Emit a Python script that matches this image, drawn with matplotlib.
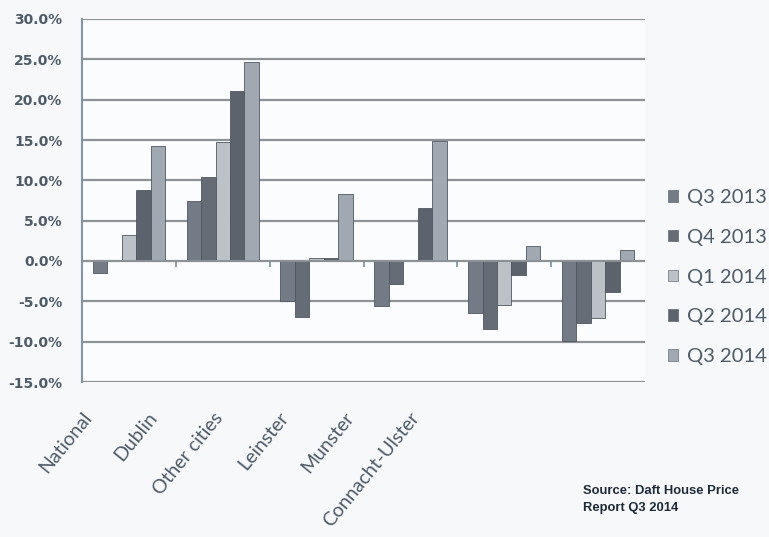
import numpy as np
import matplotlib
matplotlib.use("Agg")
import matplotlib.pyplot as plt
from matplotlib.patches import Patch
from matplotlib.ticker import FuncFormatter

# house price change by region, year on year
regioes = ["National", "Dublin", "Other cities", "Leinster", "Munster", "Connacht-Ulster"]
trimestres = ["Q3 2013", "Q4 2013", "Q1 2014", "Q2 2014", "Q3 2014"]
q3_2013 = [-1.5, 7.5, -5.0, -5.6, -6.4, -9.9]
q4_2013 = [0.0, 10.4, -6.9, -2.8, -8.4, -7.7]
q1_2014 = [3.2, 14.8, 0.4, 0.0, -5.4, -7.1]
q2_2014 = [8.8, 21.1, 0.4, 6.6, -1.7, -3.9]
q3_2014 = [14.3, 24.7, 8.3, 14.9, 1.8, 1.4]
y_ticks = [-15, -10, -5, 0, 5, 10, 15, 20, 25, 30]

series = [q3_2013, q4_2013, q1_2014, q2_2014, q3_2014]
cores = ["#727b86", "#656c75", "#bcc1c7", "#5c636c", "#a0a9b2"]
cor_texto = "#4e5b68"
fundo = "#f6f8fa"

fig = plt.figure(figsize=(7.69, 5.37), dpi=100)
fig.patch.set_facecolor(fundo)
ax = fig.add_axes([82 / 769, 1 - 382 / 537, 563 / 769, 363 / 537])
ax.set_facecolor("#fbfcfd")

n = len(series)
largura = 1 / (n + 1.5)
x = np.arange(len(regioes))
for i, (vals, cor) in enumerate(zip(series, cores)):
    ax.bar(x + (i - (n - 1) / 2) * largura, vals, largura, color=cor,
           edgecolor="#50575f", linewidth=0.6, zorder=3, label=trimestres[i])

ax.set_xlim(-0.5, len(regioes) - 0.5)
ax.set_ylim(y_ticks[0], y_ticks[-1])
ax.set_yticks(y_ticks)
ax.yaxis.set_major_formatter(FuncFormatter(lambda v, p: f"{v:.1f}%"))
ax.tick_params(axis="y", length=0, pad=14, labelsize=10, labelcolor=cor_texto)
for t in ax.get_yticklabels():
    t.set_fontweight("bold")
ax.grid(axis="y", color="#8d9297", linewidth=1.6, zorder=0)
ax.set_xticks([])

for s in ["top", "right", "bottom"]:
    ax.spines[s].set_visible(False)
ax.spines["left"].set_color("#8096a8")
ax.spines["left"].set_linewidth(1.5)

# linha do zero com marcas entre as categorias
ax.axhline(0, color="#8d9297", linewidth=1.4, zorder=4)
ax.vlines(x[:-1] + 0.5, -0.7, 0, color="#7f8fa0", linewidth=1.2, zorder=4)

# rótulos das regiões
for i, nome in enumerate(regioes):
    ax.text((0 + 65.4 * i) / 563, -0.075, nome, transform=ax.transAxes,
            rotation=51, rotation_mode="anchor", ha="right", va="top",
            fontsize=14, family="Lato", color=cor_texto)

handles = [Patch(facecolor=c, edgecolor="#50575f", linewidth=0.4) for c in cores]
fig.legend(handles, trimestres, loc="upper left", bbox_to_anchor=(668 / 769, 1 - 189 / 537),
           frameon=False, prop={"family": "Lato", "size": 14.5}, labelcolor=cor_texto,
           handlelength=0.5, handleheight=0.5, handletextpad=0.45, labelspacing=1.13,
           borderaxespad=0, borderpad=0)

fig.text(583 / 769, 1 - 511 / 537, "Source: Daft House Price\nReport Q3 2014",
         family="Liberation Sans", fontweight="bold",
         fontsize=9.4, color="#1f2b3a", va="baseline", linespacing=1.5)

fig.savefig("out.png", dpi=100, facecolor=fundo)
